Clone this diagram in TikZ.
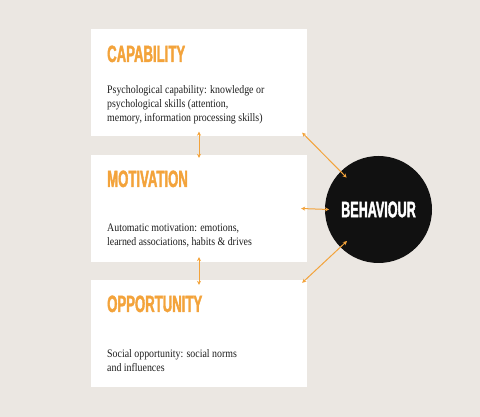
\documentclass[tikz,border=0pt]{standalone}
\usepackage{fontspec}
\setmainfont{Liberation Serif}
\newfontfamily\headfont[FakeStretch=0.56,FakeBold=1.6]{Liberation Sans Bold}
\newfontfamily\bodyfont[FakeStretch=0.86]{Liberation Serif}
\usetikzlibrary{arrows.meta,positioning,calc}
\definecolor{sand}{HTML}{EBE7E2}
\definecolor{marigold}{HTML}{F3A33B}
\definecolor{ink}{HTML}{111111}
\definecolor{charcoal}{HTML}{1E1E1E}
\tikzset{
  box/.style={rectangle, draw=none, fill=white, minimum width=216pt, minimum height=107pt, inner sep=0pt},
  headtxt/.style={anchor=base west, inner sep=0pt, text=marigold, font=\headfont\fontsize{23.5}{26}\selectfont},
  bodytxt/.style={anchor=north west, inner sep=0pt, align=left, text=charcoal, font=\bodyfont\fontsize{11.5}{14}\selectfont},
  behnode/.style={circle, fill=ink, minimum size=107pt, inner sep=0pt, text=white, font=\headfont\fontsize{22.5}{24}\selectfont},
  dflow/.style={{Stealth[length=4pt,width=4pt]}-{Stealth[length=4pt,width=4pt]}, draw=marigold, line width=1pt}
}
\begin{document}
\begin{tikzpicture}[x=1pt, y=-1pt]
 \fill[sand] (0,0) rectangle (480,417);
 \useasboundingbox (0,0) rectangle (480,417);
 % factor boxes
 \node[box] (cap) at (199,83) {};
 \node[box] (mot) at (199,208.5) {};
 \node[box] (opp) at (199,333.5) {};
 \node[behnode] (beh) at (378.5,209.5) {BEHAVIOUR};
 % titles and descriptions
 \node[headtxt] (captitle) at (107,62) {CAPABILITY};
 \node[bodytxt] (captext) at (107,85) {Psychological capability: knowledge or\\psychological skills (attention,\\memory, information processing skills)};
 \node[headtxt] (mottitle) at (107,187) {MOTIVATION};
 \node[bodytxt] (mottext) at (107,224) {Automatic motivation: emotions,\\learned associations, habits \& drives};
 \node[headtxt] (opptitle) at (107,312) {OPPORTUNITY};
 \node[bodytxt] (opptext) at (107,349) {Social opportunity: social norms\\and influences};
 % links
 \draw[dflow] ([yshift=5pt]cap.south) -- ([yshift=-3pt]mot.north);
 \draw[dflow] ([yshift=5pt]mot.south) -- ([yshift=-5pt]opp.north);
 \draw[dflow] ([shift={(-5pt,4pt)}]cap.south east) -- ($(beh)!0.84!(beh.135)$);
 \draw[dflow] ([xshift=-6pt]mot.east) -- ($(beh)!0.92!(beh.180)$);
 \draw[dflow] ([shift={(-5pt,-3pt)}]opp.north east) -- ($(beh)!0.83!(beh.225)$);
\end{tikzpicture}
\end{document}
